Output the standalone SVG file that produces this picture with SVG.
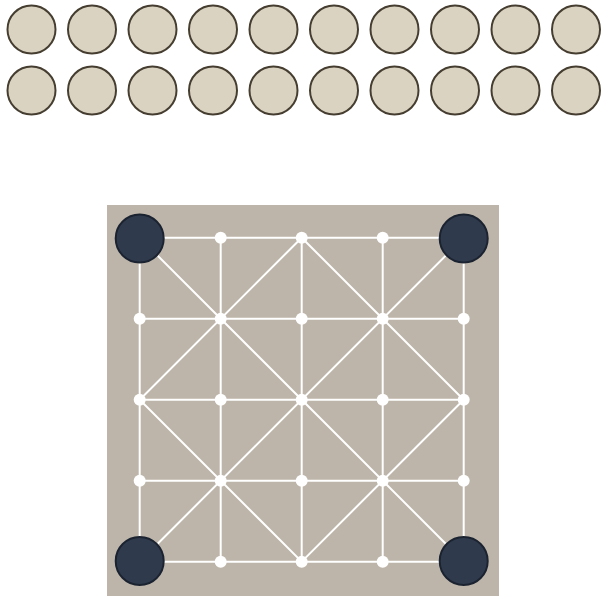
<svg xmlns="http://www.w3.org/2000/svg" width="606" height="609" viewBox="0 0 606 609">
<style>
.pool{fill:#dbd3c1;stroke:#453d30;stroke-width:2}
.ln{stroke:#ffffff;stroke-width:2;fill:none}
.pt{fill:#ffffff}
.pc{fill:#2f3b4d;stroke:#1b2331;stroke-width:2}
</style>
<rect width="606" height="609" fill="#ffffff"/>
<g id="pool">
<circle class="pool" cx="31.5" cy="29.5" r="24"/>
<circle class="pool" cx="92" cy="29.5" r="24"/>
<circle class="pool" cx="152.5" cy="29.5" r="24"/>
<circle class="pool" cx="213" cy="29.5" r="24"/>
<circle class="pool" cx="273.5" cy="29.5" r="24"/>
<circle class="pool" cx="334" cy="29.5" r="24"/>
<circle class="pool" cx="394.5" cy="29.5" r="24"/>
<circle class="pool" cx="455" cy="29.5" r="24"/>
<circle class="pool" cx="515.5" cy="29.5" r="24"/>
<circle class="pool" cx="576" cy="29.5" r="24"/>
<circle class="pool" cx="31.5" cy="90.5" r="24"/>
<circle class="pool" cx="92" cy="90.5" r="24"/>
<circle class="pool" cx="152.5" cy="90.5" r="24"/>
<circle class="pool" cx="213" cy="90.5" r="24"/>
<circle class="pool" cx="273.5" cy="90.5" r="24"/>
<circle class="pool" cx="334" cy="90.5" r="24"/>
<circle class="pool" cx="394.5" cy="90.5" r="24"/>
<circle class="pool" cx="455" cy="90.5" r="24"/>
<circle class="pool" cx="515.5" cy="90.5" r="24"/>
<circle class="pool" cx="576" cy="90.5" r="24"/>
</g>
<g id="board">
<rect x="107" y="205" width="392" height="391" fill="#bdb5a9"/>
</g>
<g id="connectors">
<path class="ln" d="M139.7 237.7H463.7M139.7 318.7H463.7M139.7 399.7H463.7M139.7 480.7H463.7M139.7 561.7H463.7"/>
<path class="ln" d="M139.7 237.7V561.7M220.7 237.7V561.7M301.7 237.7V561.7M382.7 237.7V561.7M463.7 237.7V561.7"/>
<path class="ln" d="M139.7 237.7L463.7 561.7M463.7 237.7L139.7 561.7M301.7 237.7L139.7 399.7L301.7 561.7L463.7 399.7Z"/>
</g>
<g id="points">
<circle class="pt" cx="220.7" cy="237.7" r="6"/>
<circle class="pt" cx="301.7" cy="237.7" r="6"/>
<circle class="pt" cx="382.7" cy="237.7" r="6"/>
<circle class="pt" cx="139.7" cy="318.7" r="6"/>
<circle class="pt" cx="220.7" cy="318.7" r="6"/>
<circle class="pt" cx="301.7" cy="318.7" r="6"/>
<circle class="pt" cx="382.7" cy="318.7" r="6"/>
<circle class="pt" cx="463.7" cy="318.7" r="6"/>
<circle class="pt" cx="139.7" cy="399.7" r="6"/>
<circle class="pt" cx="220.7" cy="399.7" r="6"/>
<circle class="pt" cx="301.7" cy="399.7" r="6"/>
<circle class="pt" cx="382.7" cy="399.7" r="6"/>
<circle class="pt" cx="463.7" cy="399.7" r="6"/>
<circle class="pt" cx="139.7" cy="480.7" r="6"/>
<circle class="pt" cx="220.7" cy="480.7" r="6"/>
<circle class="pt" cx="301.7" cy="480.7" r="6"/>
<circle class="pt" cx="382.7" cy="480.7" r="6"/>
<circle class="pt" cx="463.7" cy="480.7" r="6"/>
<circle class="pt" cx="220.7" cy="561.7" r="6"/>
<circle class="pt" cx="301.7" cy="561.7" r="6"/>
<circle class="pt" cx="382.7" cy="561.7" r="6"/>
</g>
<g id="pieces">
<circle id="piece-tl" class="pc" cx="139.7" cy="238.5" r="24"/>
<circle id="piece-tr" class="pc" cx="463.7" cy="238.5" r="24"/>
<circle id="piece-bl" class="pc" cx="139.7" cy="561" r="24"/>
<circle id="piece-br" class="pc" cx="463.7" cy="561" r="24"/>
</g>
</svg>
